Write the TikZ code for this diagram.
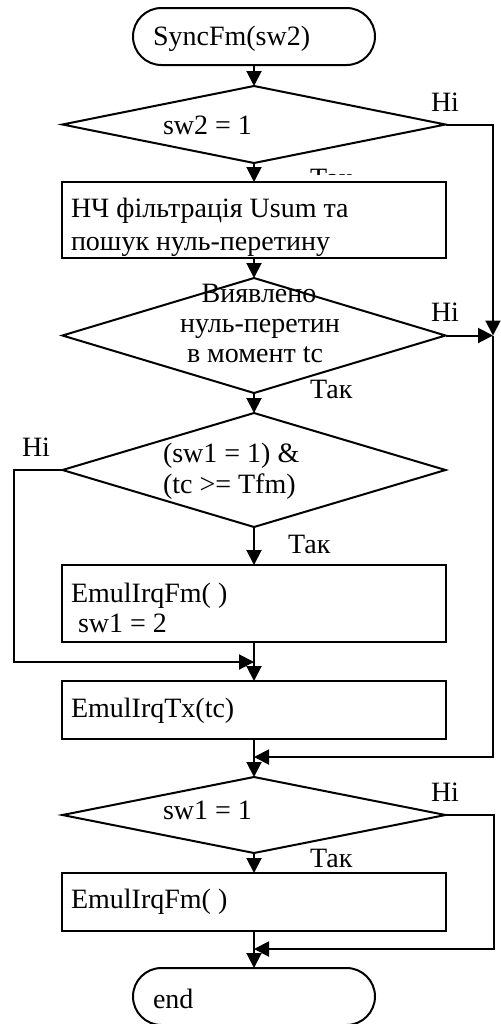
\documentclass[tikz,border=0pt]{standalone}
\usepackage{fontspec}
\setmainfont{Liberation Serif}
\usetikzlibrary{shapes.geometric,arrows.meta}

\begin{document}
\begin{tikzpicture}[x=0.5pt,y=-0.5pt,line width=1pt,
  every node/.style={inner sep=0pt,outer sep=0pt},
  txt/.style={anchor=base west,font=\fontsize{14}{16}\selectfont},
  ctxt/.style={anchor=base,font=\fontsize{14}{16}\selectfont},
  term/.style={draw,rectangle,rounded corners=14.25pt,minimum width=121pt,minimum height=28.5pt},
  proc/.style={draw,rectangle,fill=white,minimum width=192pt},
  cond/.style={draw,diamond,minimum width=191.5pt},
  arr/.style={-{Triangle[length=7.5pt,width=7.5pt]}}]
\useasboundingbox (0,0) rectangle (501,1024);

% blocks
\node[term] (start) at (254,36.5) {};
\node[cond,minimum height=38.5pt] (d1) at (254,124.5) {};
\node[proc,minimum height=38pt] (b1) at (254,220) {};
\node[cond,minimum height=57.5pt] (d2) at (254,335.5) {};
\node[cond,minimum height=57pt] (d3) at (254,470) {};
\node[proc,minimum height=38.5pt] (b2) at (254,603.5) {};
\node[proc,minimum height=29pt] (b3) at (254,710) {};
\node[cond,minimum height=38pt] (d4) at (254,815) {};
\node[proc,minimum height=29pt] (b4) at (254,902) {};
\node[term] (stop) at (254,996.5) {};

% texts
\node[txt] (tstart) at (153,45) {SyncFm(sw2)};
\node[txt] (td1) at (163,134) {sw2 = 1};
\node[txt] (tb1a) at (71,217) {НЧ фільтрація Usum та};
\node[txt] (tb1b) at (71,250) {пошук нуль-перетину};
\node[ctxt] (td2a) at (259,302) {Виявлено};
\node[ctxt] (td2b) at (260,332) {нуль-перетин};
\node[ctxt] (td2c) at (255,362) {в момент tc};
\node[txt] (td3a) at (163,462) {(sw1 = 1) \&};
\node[txt] (td3b) at (163,493) {(tc >= Tfm)};
\node[txt] (tb2a) at (71,602) {EmulIrqFm( )};
\node[txt] (tb2b) at (78,632) {sw1 = 2};
\node[txt] (tb3) at (71,717) {EmulIrqTx(tc)};
\node[txt] (td4) at (163,819) {sw1 = 1};
\node[txt] (tb4) at (71,908) {EmulIrqFm( )};
\node[txt] (tstop) at (153,1008) {end};

% branch labels
\begin{scope}
  \clip (280,150) rectangle (380,174);
  \node[txt] (yes1) at (310,187) {Так};
\end{scope}
\node[txt] (yes2) at (310,398) {Так};
\node[txt] (yes3) at (288,553) {Так};
\node[txt] (yes4) at (310,867) {Так};
\node[txt] (no1) at (431,111) {Ні};
\node[txt] (no2) at (431,321) {Ні};
\node[txt] (no3) at (22,456) {Ні};
\node[txt] (no4) at (431,801) {Ні};

% main flow
\draw[arr] (start.south) -- (d1.north);
\draw[arr] (d1.south) -- (b1.north);
\draw[arr] (b1.south) -- (d2.north);
\draw[arr] (d2.south) -- (d3.north);
\draw[arr] (d3.south) -- (b2.north);
\draw[arr] (b2.south) -- (b3.north);
\draw[arr] (b3.south) -- (d4.north);
\draw[arr] (d4.south) -- (b4.north);
\draw[arr] (b4.south) -- (stop.north);

% bypass lines
\coordinate (r1) at (493,335.5);
\coordinate (m1) at (254,757);
\coordinate (lc) at (14,662);
\coordinate (l1) at (254,662);
\coordinate (rc) at (494,949);
\coordinate (m2) at (254,949);
\draw[arr] (d1.east) -| (r1);
\draw[arr] (d2.east) -- (r1);
\draw[arr] (r1) |- (m1);
\draw[arr] (d3.west) -| (lc) -- (l1);
\draw[arr] (d4.east) -| (rc) -- (m2);
\end{tikzpicture}
\end{document}
